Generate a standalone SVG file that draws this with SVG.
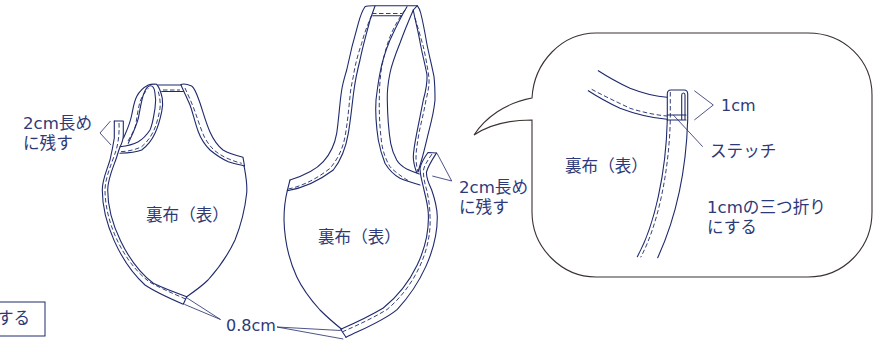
<svg xmlns="http://www.w3.org/2000/svg" width="879" height="340" viewBox="0 0 879 340">
<style>
.l{fill:none;stroke:#1f2a6b;stroke-width:1.1;stroke-linejoin:round;stroke-linecap:round}
.d{fill:none;stroke:#1f2a6b;stroke-width:.9;stroke-dasharray:4.500 2.500}
.t{fill:none;stroke:#1f2a6b;stroke-width:.8}
text{font-family:"DejaVu Sans","Noto Sans CJK JP",sans-serif;font-size:16.600px;fill:#2e3a78}
text.n{font-size:16px}
</style>
<rect width="879" height="340" fill="#fff"/>
<g id="note-box"><rect x="-10" y="302" width="55" height="34" fill="#fff" stroke="#1f2a6b" stroke-width="1"/><text x="-3" y="324">する</text></g>
<g id="bag-left">
<path class="l" d="M114.300 121V138C113 146 112 151.300 110 160C107 170 102.300 179 102.300 190C102.300 222 120 262 145 285C154.700 291.800 170 298.500 183.300 304.300L186.700 296.700"/>
<path class="l" d="M114.300 121H123.300V135C123.300 140 122 143 120 147C118 152 117.500 155 115.700 160C112 170 107.700 180 107.700 190C107.700 222 127 263 153.300 283.300C163 288 175 292.500 186.700 296.700"/>
<path class="d" d="M119 123C119.500 135 118 145 115.500 152C112.300 162 105 178 105 190C105 222 123 262 149.500 282C160 288 172 293 185.500 299"/>
<path class="l" d="M123.500 138C127 130 130 124 131.700 115C134 105 134.500 92 148.300 85C151 84 154 84 156.700 84.300"/>
<path class="l" d="M128.300 143.300C132 135 136 127 138.300 118.300C140 110 141 102 143.300 95C145 90 147 86 150 85.700C153 85.500 154.300 88 154.800 92C156 98 156 103 155 108.300C153.500 117 153 123 150 130C146 136 143 139 138.300 141.700C132 145 126 146 120 146.700"/>
<path class="l" d="M156.700 84.300C159 87 161 92 162.300 98.300C163 103 162.700 107 161.700 111.700C160 120 158 127 155 133.300C152 140 147 146 141.700 150C135 152.500 127 153 120 153.300"/>
<path class="d" d="M158.300 91.700C160 97 160.500 103 160 108.300C158.500 117 156.500 125 153.300 131.700C150 138 146 143 141.700 146.700C135 150 127 151.500 120 151.700"/>
<path class="d" d="M128 141C132 134 134.500 130 135.700 125C137 117 138 109 140 101.700C142 96 145 92 148.300 88.300"/>
<path class="l" d="M158 85H181M161.700 91.500H183.300"/>
<path class="d" d="M163 90H180"/>
<path class="l" d="M181 84.500C183 83.500 187 84 191.700 86C195 88 197 95 200 103C203 112 206 123 210 132C214 141 218 146 223 150C229 153.500 236 155.500 243 157.300L244.500 166"/>
<path class="l" d="M181 85C184 92 187 98 190 105C193 113 195 123 198.300 131.700C201 139 205 145 210 150C216 155 222 159 228.300 161.700C233 163.500 239 164.500 244.500 166"/>
<path class="d" d="M185 88C188 95 192 103 195 111.700C198 120 201 130 205 138.300C209 145 213 150 218.300 153.300C225 158 233 161 241.700 163.300"/>
<path class="l" d="M186.700 296.700C195 291 202 286 208 280C218 269 228 255 235 240C241 225 245 209 246.700 193C247.500 183 245.500 174 244 165.700"/>
</g>
<g id="bag-right">
<path class="l" d="M290 180L287.300 190.700C285 200 284 210 284 220C284.500 240 289 260 296.700 276.700C303 290 311 300 320 310C327 317 334 323 341.700 329.300"/>
<path class="l" d="M290 180C303 176 315 171 323.300 161.700C331 153 335 143 336.700 133.300C339 118 339.500 104 341.700 90C343 82 345 76 346.700 70C350 54 354 38 358.300 23.300C360 17 362 11 365 6.700C367 5.700 370 5.700 373 5.700H417.300C419 8 420 10 420.700 13C423 22 425 33 426.700 43C429 55 432 66 434 76.700C435 85 435 92 435 100C434 112 431 123 428.300 133.300C426 143 424 152 421 162L418 172"/>
<path class="l" d="M287.300 190.700C304 188 320 180 333.300 170C341 160 346 147 348.300 133.300C351 118 352 104 354 90C355 82 357 72 360 60C363 45 367 32 370 20L375 6"/>
<path class="d" d="M288.300 189C303 186 318 178 330 168.300C338 159 343 148 345 136.700C348 120 349 105 350.700 90C351.500 86 352 82 353.300 76.700C355 65 358 54 361.700 43.300C364 34 368 24 371.700 15"/>
<path class="l" d="M372.700 15.700H401.700"/>
<path class="d" d="M372 13.500H402"/>
<path class="l" d="M407 6.700C400 18 395 29 390 40C385 52 382 62 380 73C378 83 377 92 376 100C375 115 376.500 128 378.300 140C380 149 382 156 385 163.300C389 170 394 175 400 178.300C406 181 413 183 420 185"/>
<path class="l" d="M413.300 10C409 20 404 32 400 43C396 53 392 63 390 73C388 83 387 92 387.300 100C387.500 115 388.500 130 390.700 143.300C392 150 394 155 396.700 160C399 164 403 167 406.700 169C411 171 415 172.500 419.300 174"/>
<path class="d" d="M405 10C399 18 394 27 390 36.700C386.500 46 384 56 381.700 66.700C380 78 379.300 89 379.300 100C379 115 380 130 381.700 143.300C383 152 386 160 390 166.700C395 172 402 177 410 181.700"/>
<path class="l" d="M413.300 10C415 20 418 30 420 42C422 53 425 64 427 75C427.500 84 425.500 92 423.300 100C421 112 419 122 416.700 133.300C415 142 413.500 150 413.300 156.700C413.300 163 415 168 416.700 172.700"/>
<path class="l" d="M413.300 10L417.300 5.700"/>
<path class="d" d="M415 18C418 28 421 38 423.300 46.700C425.500 56 427.500 67 429 78C429.500 85 428 92 426 100C424 112 421 123 419 133C417.500 143 416 150 416 158C416 163 417 168 418 172"/>
<path class="l" d="M436.500 153L428 152.500C424 158 421 163 420 168.300C420 175 422 181 424 190C426 198 428 206 428.300 213.300C430 248 412 285 383.300 308C370 316 355 323 340.700 329.300L346 337.300"/>
<path class="l" d="M436.500 153C432 160 428 166 426.500 172C426 178 429 184 431.700 190C434.500 198 437 207 437.300 216.700C437.500 250 420 285 397.300 309.300C385 320 365 328 346 337.300"/>
<path class="d" d="M432 154C428 160 424.500 165 423.500 170C423 177 425 184 426.700 190C428.500 198 430 207 430 216.700C432 250 414 287 387 309.500C373 318 358 325 342.700 331.700"/>
</g>
<g id="callout">
<path d="M532 98C534 62 562 33 596 33H808C844 33 872 60 872 95V212C872 248 844 277 808 277H596C562 277 532 248 532 212V120C510 120 490 124 474 135C485 118 505 103 532 98Z" fill="#fff" stroke="#3b3230" stroke-width="1.100"/>
<path class="l" d="M598.300 70.700C608 77 619 83 630 88.300C642 93 654 96.500 667 97.300"/>
<path class="l" d="M588.300 90.700C598 97 609 103 620 108.300C635 114 651 118 667 119.300"/>
<path class="d" d="M591.700 89.300C604 96 617 102 630 108.300C642 112 655 115 667 116"/>
<path class="l" d="M667.300 120V94C667.300 91 669 90 671 90H684C686.500 90 687.700 91 687.700 94V120C686 175 675 220 657.700 257.700"/>
<path class="l" d="M667.300 120C666 172 655 225 637.300 256.700"/>
<path class="d" d="M670.300 92V120C669 172 658 225 640.700 257.300"/>
<path class="l" d="M681.700 120V95C681.700 93.500 682.500 93 683.500 93C684.500 93 685 93.500 685 95V120M667.300 115H686M667.300 120H686"/>
<path class="t" d="M694.300 90.700L713.300 105L694.300 120"/>
<path class="t" d="M673.300 115L702.700 146.700"/>
</g>
<g id="connectors">
<path class="t" d="M110.500 121L100 133L111 145"/>
<path class="t" d="M437 153.300L451.700 181L432.300 176"/>
<path class="t" d="M186 297.300L220.500 319.500L184.300 304.300"/>
<path class="t" d="M340.700 330.500L277 327L343.300 339"/>
</g>
<g id="labels">
<text x="23" y="129">2cm長め</text>
<text x="23" y="149">に残す</text>
<text x="146" y="221">裏布（表）</text>
<text x="318" y="243">裏布（表）</text>
<text x="459" y="193">2cm長め</text>
<text x="459" y="213">に残す</text>
<text class="n" x="226" y="331">0.8cm</text>
<text x="565" y="172">裏布（表）</text>
<text class="n" x="721" y="111">1cm</text>
<text x="710" y="157">ステッチ</text>
<text x="707" y="213">1cmの三つ折り</text>
<text x="707" y="233">にする</text>
</g>
</svg>
